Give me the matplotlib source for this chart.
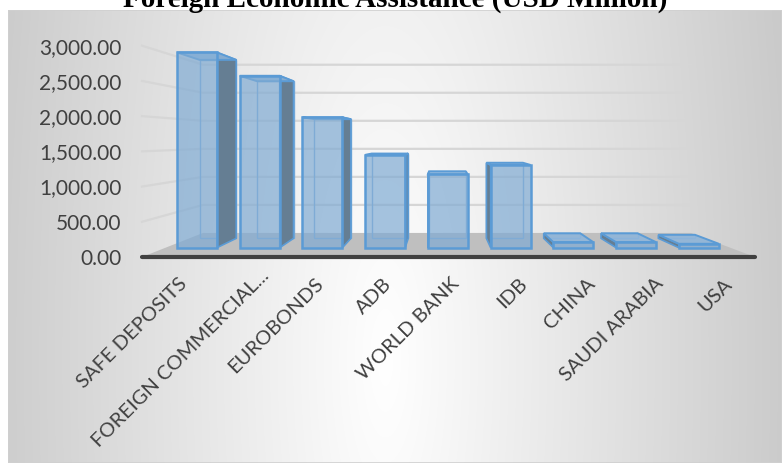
import numpy as np
import matplotlib
matplotlib.use("Agg")
import matplotlib.pyplot as plt
from matplotlib.patches import Polygon, Rectangle
from matplotlib.colors import to_rgba
from matplotlib.transforms import ScaledTranslation

# data
categories = ["SAFE DEPOSITS", "FOREIGN COMMERCIAL...", "EUROBONDS", "ADB",
              "WORLD BANK", "IDB", "CHINA", "SAUDI ARABIA", "USA"]
amounts = [3010, 2650, 2010, 1430, 1130, 1275, 85, 85, 60]
y_ticks = [0, 500, 1000, 1500, 2000, 2500, 3000]
y_labels = [f"{v:,.2f}" for v in y_ticks]
title = "Foreign Economic Assistance (USD Million)"

W, H, DPI = 782, 465, 100
plt.rcParams['font.family'] = ['Lato', 'DejaVu Sans']

# simple perspective: front plane in data units, walls shrink toward a vanishing point
VX, VY = 4.39, 1675
K = 1 / 0.796 - 1
BAR_W = 0.637
Z0, Z1 = 0.335, 0.733


def proj(x, y, z):
    s = 1 / (1 + K * z)
    return (VX + (x - VX) * s, VY + (y - VY) * s)


def face(ax, pts, fc, ec, lw, z):
    ax.add_patch(Polygon([proj(*p) for p in pts], closed=True, facecolor=fc,
                         edgecolor=ec, linewidth=lw, zorder=z, clip_on=False))


fig = plt.figure(figsize=(W / DPI, H / DPI), dpi=DPI)
fig.patch.set_facecolor("white")

# background panel with soft radial-ish shading
bg = fig.add_axes([8 / W, 2 / H, (W - 8) / W, (463 - 10) / H], zorder=-1)
xs = np.arange(8, W)
ys = np.arange(10, 463)
gx, gy = np.meshgrid(xs, ys)
d = np.sqrt(((gx - 385) / 400) ** 2 + (0.3 * (gy - 360) / 400) ** 2)
shade = np.clip(255 - 52 * d, 190, 255) / 255
bg.imshow(np.dstack([shade] * 3), aspect="auto", extent=(0, 1, 0, 1))
bg.add_patch(Rectangle((0, 0), 1, 1, transform=bg.transAxes, fill=False,
                       edgecolor="#D0D0D0", linewidth=1.2))
bg.set_axis_off()

ax = fig.add_axes([142 / W, (H - 257) / H, (755 - 142) / W, 211.3 / H])
ax.set_facecolor("none")
ax.set_xlim(0, len(categories))
ax.set_ylim(0, 3000)
for sp in ax.spines.values():
    sp.set_visible(False)

n = len(categories)

# gridlines on left and back walls
for v in y_ticks[1:]:
    pts = [proj(0, v, 0), proj(0, v, 1), proj(n, v, 1)]
    ax.plot([p[0] for p in pts], [p[1] for p in pts], color="#D6D6D6",
            lw=1.6, zorder=1, clip_on=False)

# floor
face(ax, [(0, 0, 0), (n, 0, 0), (n, 0, 1), (0, 0, 1)], "#BFBFBF", "none", 0, 2)
fx = [proj(0, 0, 0)[0], proj(n, 0, 0)[0]]
ax.plot(fx, [0, 0], color="#404040", lw=3, zorder=3, clip_on=False,
        solid_capstyle="round")

edge = "#5B9BD5"
for i, h in enumerate(amounts):
    cx = i + 0.5
    x0, x1 = cx - BAR_W / 2, cx + BAR_W / 2
    # back outline, seen through the front
    face(ax, [(x0, 0, Z1), (x1, 0, Z1), (x1, h, Z1), (x0, h, Z1)],
         "none", "#7FAEDB", 1.0, 4)
    sx = x1 if cx < VX else x0
    face(ax, [(sx, 0, Z0), (sx, 0, Z1), (sx, h, Z1), (sx, h, Z0)],
         "#657E93", edge, 1.2, 5)
    face(ax, [(x0, h, Z0), (x1, h, Z0), (x1, h, Z1), (x0, h, Z1)],
         to_rgba("#8DB5DB", 0.85), edge, 1.4, 6)
    face(ax, [(x0, 0, Z0), (x1, 0, Z0), (x1, h, Z0), (x0, h, Z0)],
         to_rgba("#80ABD3", 0.7), edge, 1.8, 7)

ax.set_yticks(y_ticks)
ax.set_yticklabels(y_labels)
ax.tick_params(axis="y", length=0, pad=15, labelsize=15, labelcolor="#404040")

ax.set_xticks([i + 0.5 for i in range(n)])
ax.set_xticklabels(categories, rotation=45, ha="right", rotation_mode="anchor")
ax.tick_params(axis="x", length=0, pad=13, labelsize=14.5, labelcolor="#404040")
for k, lab in enumerate(ax.get_xticklabels()):
    dx, dy = (16, 8) if k == 1 else (2, 0)
    shift = ScaledTranslation(dx / DPI, dy / DPI, fig.dpi_scale_trans)
    lab.set_transform(lab.get_transform() + shift)

fig.text(395 / W, 1 - 7 / H, title, ha="center", va="baseline", fontsize=21,
         fontweight="bold", family=["Liberation Serif", "DejaVu Serif"])

fig.savefig("out.png", dpi=DPI)
